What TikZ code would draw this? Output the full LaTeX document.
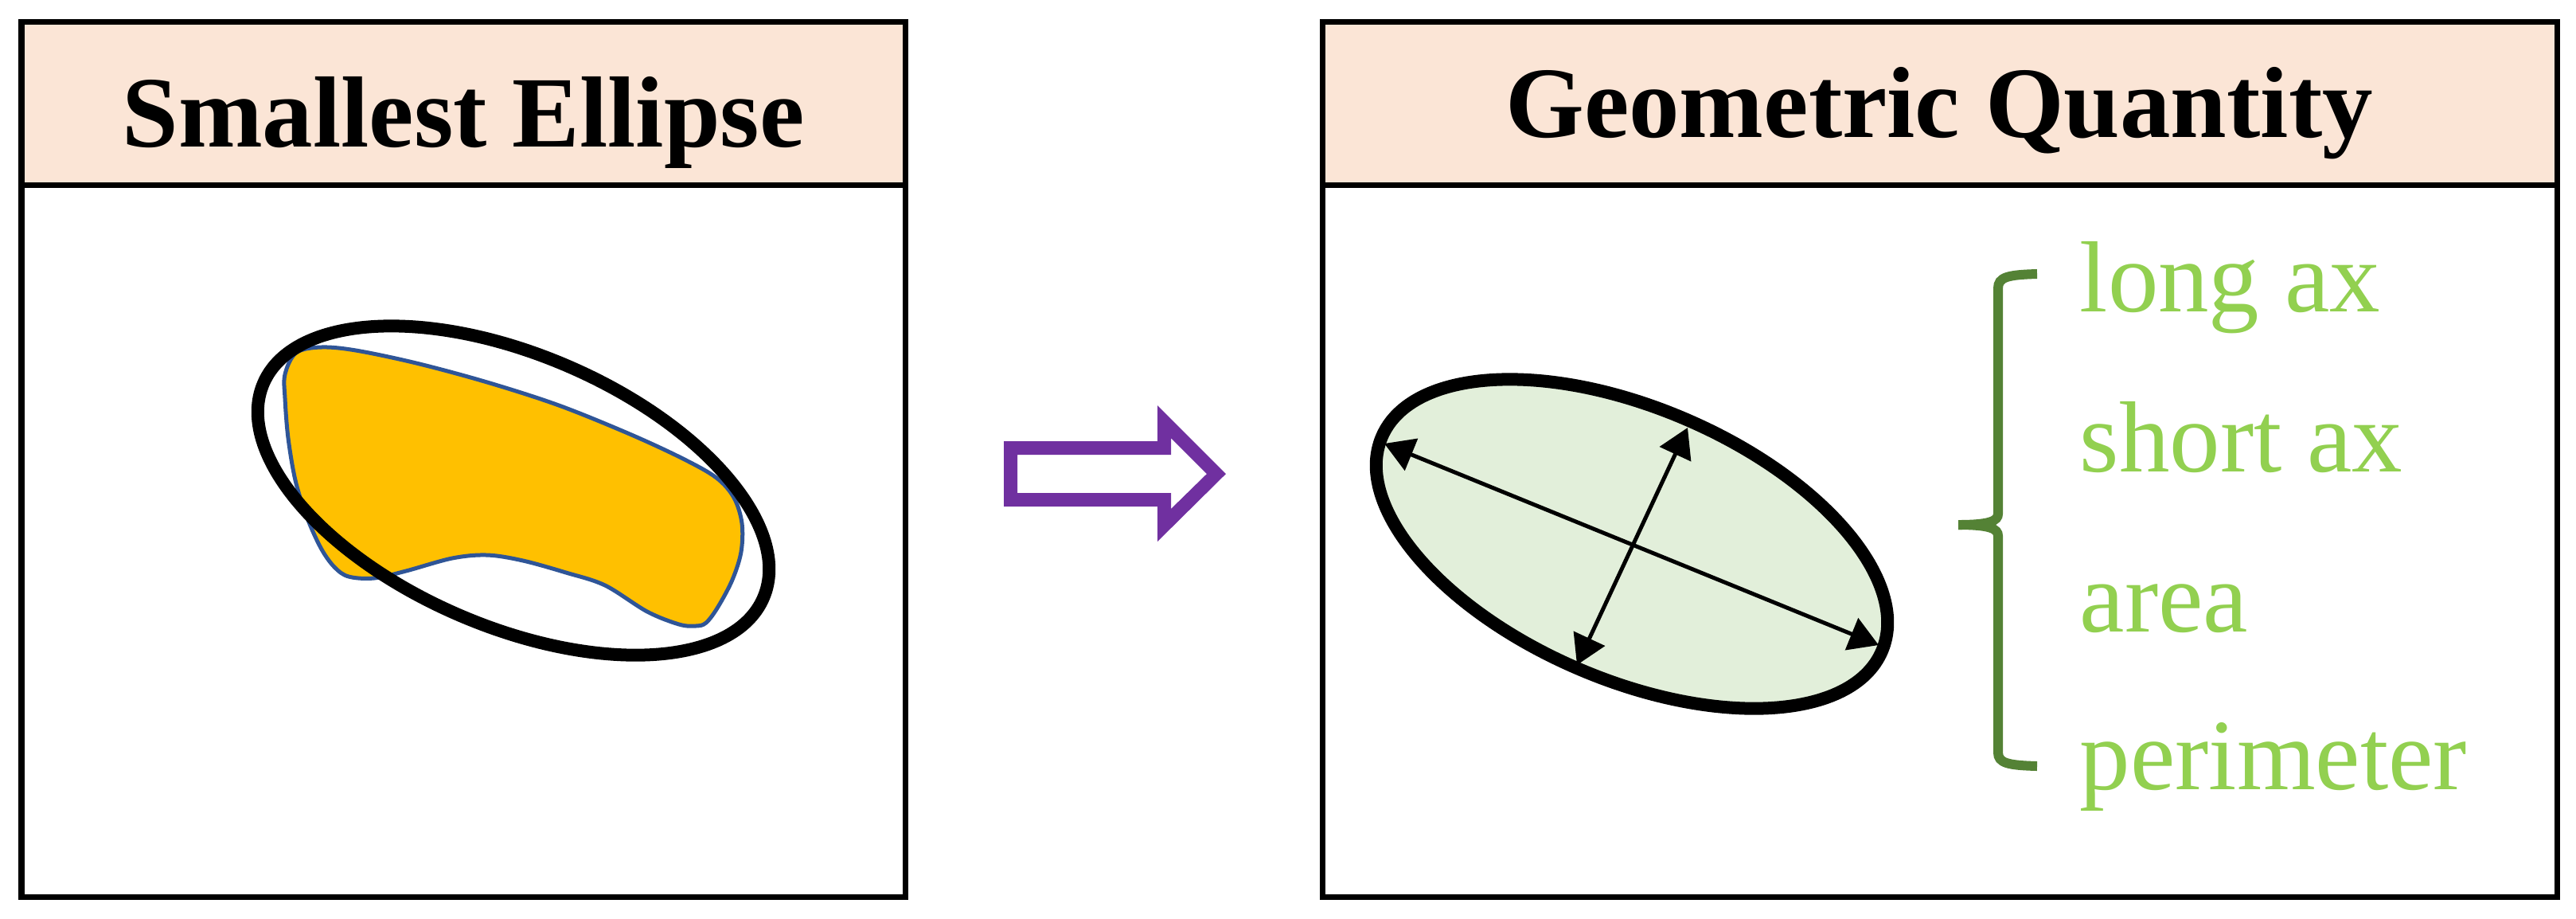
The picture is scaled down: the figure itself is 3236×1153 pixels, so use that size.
\documentclass[tikz,border=0pt]{standalone}
\usepackage{fontspec}
\setmainfont{Liberation Serif}
\usetikzlibrary{arrows.meta}
\definecolor{headfill}{HTML}{FBE5D6}
\definecolor{blobyellow}{HTML}{FFC000}
\definecolor{blobblue}{HTML}{2F5597}
\definecolor{ellgreen}{HTML}{E2EFDA}
\definecolor{itemgreen}{HTML}{92D050}
\definecolor{bracegreen}{HTML}{548235}
\definecolor{arrowpurple}{HTML}{7030A0}
\begin{document}
\begin{tikzpicture}[x=0.01cm,y=-0.01cm,
  boxline/.style={line width=0.7mm, draw=black},
  title/.style={font=\fontsize{36.1}{40}\selectfont\bfseries, inner sep=0pt, anchor=base},
  item/.style={font=\fontsize{36.1}{40}\selectfont, text=itemgreen, inner sep=0pt, anchor=base west},
  bigell/.style={line width=1.6mm, draw=black},
  axisarrow/.style={line width=0.5mm, {Triangle[length=3.67mm,width=4.26mm]}-{Triangle[length=3.67mm,width=4.26mm]}},
  bracestyle/.style={line width=1.2mm, draw=bracegreen},
]
\useasboundingbox (0,0) rectangle (3236,1153);
\fill[white] (0,0) rectangle (3236,1153);

% ---------- left panel ----------
\fill[headfill] (27,27) rectangle (1137,232);
\draw[boxline] (27,27) rectangle (1137,1126);
\draw[boxline] (27,232) -- (1137,232);
\node[title] (t1) at (582,184) {Smallest Ellipse};

% blob
\filldraw[fill=blobyellow, draw=blobblue, line width=0.5mm]
  plot[smooth cycle, tension=0.55] coordinates {
  (358,470) (372,443) (403,436) (447,440) (523,456) (612,480) (702,509)
  (791,545) (858,576) (900,600) (922,625) (932,657) (931,693) (920,728)
  (902,762) (887,782) (874,786) (853,784) (813,768) (760,735) (711,719)
  (657,704) (612,697) (568,701) (510,717) (470,726) (438,724) (420,712)
  (403,688) (385,648) (371,603) (362,550) (358,500)};

% enclosing ellipse
\draw[bigell, rotate around={-23.2:(645,616)}] (645,616) ellipse [x radius=3.415cm, y radius=1.705cm];

% ---------- purple arrow ----------
\fill[arrowpurple, even odd rule]
  (1261,554) -- (1454,554) -- (1454,509) -- (1540,595) -- (1454,680) -- (1454,636) -- (1261,636) -- cycle
  (1278,571) -- (1471,571) -- (1471,550) -- (1516,595) -- (1471,639) -- (1471,619) -- (1278,619) -- cycle;

% ---------- right panel ----------
\fill[headfill] (1661,27) rectangle (3212,232);
\draw[boxline] (1661,27) rectangle (3212,1126);
\draw[boxline] (1661,232) -- (3212,232);
\node[title] (t2) at (2436,172) {Geometric Quantity};

\filldraw[bigell, fill=ellgreen, rotate around={-23.2:(2050,683)}] (2050,683) ellipse [x radius=3.415cm, y radius=1.705cm];

\coordinate (la1) at (1739,557);
\coordinate (la2) at (2360,810);
\coordinate (sa1) at (2120,537);
\coordinate (sa2) at (1981,835);
\draw[axisarrow] (la1) -- (la2);
\draw[axisarrow] (sa1) -- (sa2);

% brace
\draw[bracestyle] (2559,344) .. controls (2522,345) and (2510,348) .. (2510,362) -- (2510,645)
  .. controls (2510,654) and (2500,659) .. (2460,659);
\draw[bracestyle] (2460,659) .. controls (2500,659) and (2510,664) .. (2510,673) -- (2510,945)
  .. controls (2510,958) and (2522,961) .. (2559,962);

\node[item] (q1) at (2612,391) {long ax};
\node[item] (q2) at (2612,592) {short ax};
\node[item] (q3) at (2612,793) {area};
\node[item] (q4) at (2612,991) {perimeter};
\end{tikzpicture}
\end{document}
